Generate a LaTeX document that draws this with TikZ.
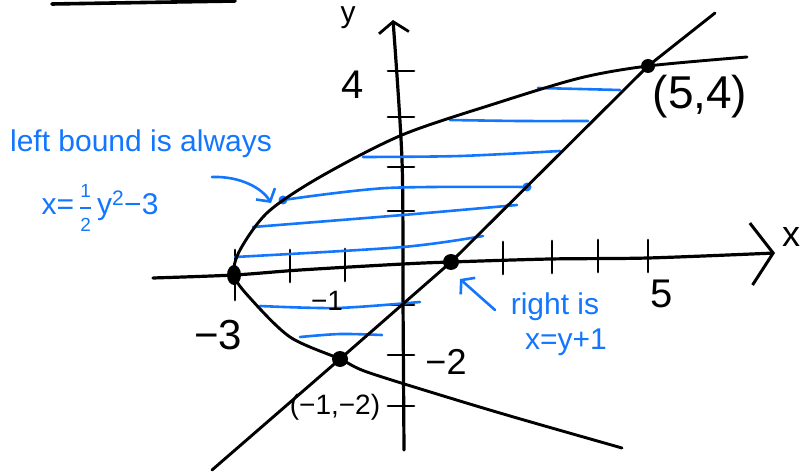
\documentclass[tikz,border=0pt]{standalone}
\usepackage{amsmath}
\usepackage{fontspec}
\setmainfont{Liberation Sans}
\usetikzlibrary{arrows.meta}
\definecolor{inkblue}{RGB}{18,118,255}
\newcommand{\halfnum}[1]{\mbox{\fontsize{19}{19}\selectfont #1}}

\begin{document}
\begin{tikzpicture}[
    x=1pt, y=-1pt,
    ink/.style={line width=2.9pt, line cap=round, line join=round},
    hatch/.style={inkblue, line width=2.6pt, line cap=round},
    axistip/.style={-{Straight Barb[length=11pt,width=30pt,line width=2.8pt]}},
    notetip/.style={-{Straight Barb[length=9pt,width=22pt,line width=2.6pt]}},
    lbl/.style={inner sep=0pt, font=\fontsize{40}{40}\selectfont},
    note/.style={inner sep=0pt, text=inkblue, font=\fontsize{30}{32}\selectfont}
]
\useasboundingbox (0,0) rectangle (803,473);

% points where the curves meet
\coordinate (P54) at (648,66);
\coordinate (Pm1m2) at (340,359);
\coordinate (X1) at (451,262);
\coordinate (Xm3) at (234,275);

% stroke cut off at the top
\draw[ink, line width=3.6pt] (52,4) -- (235,1);

% axes
\draw[ink, line width=3.2pt, -{Straight Barb[length=22pt,width=62pt,line width=3pt]}]
    plot[smooth] coordinates {(153,278) (Xm3) (300,270) (403,264) (X1) (550,259) (648,258) (775,253)};
\draw[ink, line width=3.2pt, axistip]
    plot[smooth] coordinates {(404,450) (403,300) (402,160) (393,20)};

% ticks
\foreach \tx/\ty in {290/268, 345/267, 503/260, 552/259, 598/258, 648/258}
    \draw[ink] (\tx,\ty-18) -- (\tx,\ty+14);
\draw[ink] (235,250) -- (235,300);
\foreach \ty in {71,117,167,211,305,355,406}
    \draw[ink] (388,\ty) -- (414,\ty);

% hatching
\draw[hatch] plot[smooth] coordinates {(538,88) (580,89) (620,90)};
\draw[hatch] plot[smooth] coordinates {(450,120) (520,121) (588,121)};
\draw[hatch] plot[smooth] coordinates {(363,157) (460,156) (560,151)};
\draw[hatch] plot[smooth] coordinates {(283,200) (387,188) (527,187)};
\draw[hatch] plot[smooth] coordinates {(253,227) (403,215) (517,205)};
\draw[hatch] plot[smooth] coordinates {(235,257) (403,247) (483,236)};
\draw[hatch] plot[smooth] coordinates {(260,306) (337,308) (420,302)};
\draw[hatch] plot[smooth] coordinates {(300,337) (340,334) (382,335)};
\fill[inkblue] (283,200) circle (4.5);
\fill[inkblue] (527,187) circle (4.5);

% parabola x = y^2/2 - 3
\draw[ink] plot[smooth] coordinates {(622,448) (517,418) (450,398) (367,372) (Pm1m2)
    (290,337) (250,298) (Xm3) (240,250) (268,212) (320,177) (402,135) (497,103)
    (580,78) (P54) (747,57)};

% line x = y + 1
\draw[ink] (212,470) -- (Pm1m2) -- (X1) -- (P54) -- (715,13);

% points
\fill (Xm3) ellipse (7 and 10);
\fill (X1) circle (8);
\fill (Pm1m2) circle (8);
\fill (P54) circle (7);

% labels
\node[lbl, font=\fontsize{30}{30}\selectfont] (ylbl) at (348,18) {y};
\node[lbl, font=\fontsize{36}{36}\selectfont] (xlbl) at (791,237) {x};
\node[lbl] (four) at (353,85) {4};
\node[lbl] (five) at (662,294) {5};
\node[lbl, font=\fontsize{42}{42}\selectfont] (mthree) at (218,335) {−3};
\node[lbl, font=\fontsize{28}{28}\selectfont] (mone) at (327,301) {−1};
\node[lbl, font=\fontsize{36}{36}\selectfont] (mtwo) at (446,362) {−2};
\node[lbl, font=\fontsize{28}{28}\selectfont] (ptlow) at (335,407) {(−1,−2)};
\node[lbl, font=\fontsize{46}{46}\selectfont] (pthigh) at (700,97) {(5,4)};

% notes
\node[note] (leftnote) at (141,144) {left bound is always};
\node[note] (lefteq) at (100,208) {x=\,$\genfrac{}{}{1.5pt}{0}{\halfnum{1}}{\halfnum{2}}$\,y\textsuperscript{2}−3};
\node[note] (rightnote) at (555,307) {right is};
\node[note] (righteq) at (566,342) {x=y+1};

\coordinate (lefttail) at (212,177);
\coordinate (lefthead) at (271,203);
\coordinate (righttail) at (495,310);
\coordinate (righthead) at (460,279);
\draw[hatch, notetip] (lefttail) .. controls (240,176) and (262,188) .. (lefthead);
\draw[hatch, notetip] (righttail) -- (righthead);
\end{tikzpicture}
\end{document}
